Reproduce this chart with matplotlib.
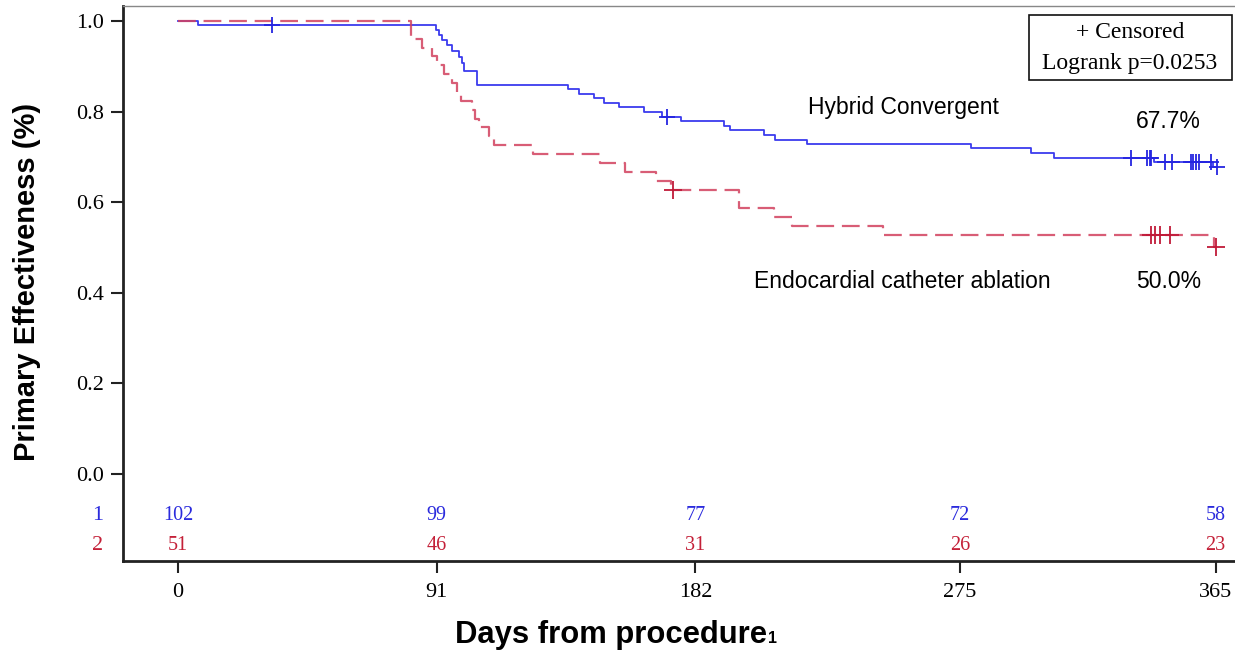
import matplotlib
matplotlib.use("Agg")
import matplotlib.pyplot as plt
from matplotlib.patches import Rectangle

# Hybrid Convergent (group 1) - KM steps
hyb_t = [0, 7, 90.8, 91.6, 92.8, 94.6, 96.3, 98.7, 99.9, 100.4, 105.1, 137.0, 140.9,
         146.2, 149.7, 155.0, 163.8, 170.2, 176.9, 191.9, 194.3, 206.0, 210.1, 221.3,
         279.1, 300.2, 308.1, 343.3, 364.0, 365.4]
hyb_s = [1.0, 0.990, 0.980, 0.970, 0.958, 0.947, 0.933, 0.921, 0.907, 0.889, 0.859, 0.849, 0.838,
         0.829, 0.820, 0.811, 0.800, 0.789, 0.779, 0.768, 0.759, 0.748, 0.738, 0.728,
         0.719, 0.709, 0.698, 0.688, 0.677, 0.677]
hyb_cens_t = [33, 172, 335.3, 341.0, 341.8, 342.4, 347.1, 349.8, 356.2, 357.0, 358.0, 359.1, 363.3, 365.4]
hyb_cens_s = [0.990, 0.789, 0.698, 0.698, 0.698, 0.698, 0.688, 0.688, 0.688, 0.688, 0.688, 0.688, 0.688, 0.677]

# Endocardial catheter ablation (group 2)
endo_t = [0, 81.9, 85.8, 89.2, 91.0, 93.5, 96.5, 98.0, 99.5, 103.4, 104.5, 105.7, 109.2, 111.0,
          125.0, 148.5, 157.3, 168.2, 173.5, 197.2, 209.6, 216.0, 247.9, 364.5, 365.0]
endo_s = [1.0, 0.961, 0.941, 0.922, 0.902, 0.882, 0.863, 0.843, 0.824, 0.804, 0.784, 0.765, 0.745, 0.726,
          0.706, 0.686, 0.667, 0.647, 0.627, 0.588, 0.567, 0.547, 0.527, 0.502, 0.502]
endo_cens_t = [174.1, 342.1, 343.6, 345.4, 348.8, 365.0]
endo_cens_s = [0.627, 0.527, 0.527, 0.527, 0.527, 0.502]

# number at risk
risk_days = [0, 91, 182, 275, 365]
risk_hyb = [102, 99, 77, 72, 58]
risk_endo = [51, 46, 31, 26, 23]

blue = "#3b3bee"
red = "#d2405e"
blue_txt = "#2b2bdd"
red_txt = "#c42038"
serif = ["Liberation Serif", "DejaVu Serif"]
sans = ["Liberation Sans", "DejaVu Sans"]

fig = plt.figure(figsize=(12.35, 6.54), dpi=100)
ax = fig.add_axes([123 / 1235, 1 - 561 / 654, 1112 / 1235, 555 / 654])

ax.step(hyb_t, hyb_s, where="post", color=blue, lw=1.3)
ax.step(endo_t, endo_s, where="post", color=red, lw=1.6, dashes=(8, 3.5), alpha=0.85)
ax.plot(hyb_cens_t, hyb_cens_s, "+", color="#2525e0", ms=11, mew=1.3)
ax.plot(endo_cens_t, endo_cens_s, "+", color="#c01a38", ms=13, mew=1.3)

ax.set_xlim(-19.4, 371.8)
ax.set_ylim(-0.192, 1.033)
ax.set_xticks(risk_days)
ax.set_yticks([0.0, 0.2, 0.4, 0.6, 0.8, 1.0])
ax.set_yticklabels(["0.0", "0.2", "0.4", "0.6", "0.8", "1.0"])
for lab in ax.get_xticklabels() + ax.get_yticklabels():
    lab.set_family(serif)
    lab.set_fontsize(16)
ax.tick_params(axis="both", length=8.5, width=1.5, color="#222222")
ax.tick_params(axis="y", pad=5)
ax.tick_params(axis="x", pad=7)

for s in ["left", "bottom"]:
    ax.spines[s].set_linewidth(2)
    ax.spines[s].set_color("#222222")
ax.spines["top"].set_color("#888888")
ax.spines["top"].set_linewidth(1)
ax.spines["right"].set_visible(False)

# risk table
for d, n1, n2 in zip(risk_days, risk_hyb, risk_endo):
    ax.text(d, -0.0905, str(n1), color=blue_txt, ha="center", va="center",
            fontsize=14.5, family=serif)
    ax.text(d, -0.157, str(n2), color=red_txt, ha="center", va="center",
            fontsize=14.5, family=serif)
ax.text(-28.2, -0.0905, "1", color=blue_txt, ha="center", va="center",
        fontsize=16, family=serif, clip_on=False)
ax.text(-28.2, -0.157, "2", color=red_txt, ha="center", va="center",
        fontsize=16, family=serif, clip_on=False)

# curve annotations
ax.text(255.2, 0.808, "Hybrid Convergent", ha="center", va="center", fontsize=16.5, family=sans)
ax.text(348.5, 0.779, "67.7%", ha="center", va="center", fontsize=16.5, family=sans)
ax.text(254.8, 0.424, "Endocardial catheter ablation", ha="center", va="center",
        fontsize=16.5, family=sans)
ax.text(348.5, 0.426, "50.0%", ha="center", va="center", fontsize=16.5, family=sans)

# legend box
ax.add_patch(Rectangle((0.8146, 0.8667), 0.1827, 0.1171, transform=ax.transAxes,
                       fill=False, edgecolor="#111111", lw=1.2, zorder=5))
ax.text(0.9055, 0.953, "+ Censored", transform=ax.transAxes, ha="center", va="center",
        fontsize=17, family=serif)
ax.text(0.9055, 0.8955, "Logrank p=0.0253", transform=ax.transAxes, ha="center", va="center",
        fontsize=17, family=serif)

# axis titles
fig.text(27 / 1235, 1 - 282 / 654, "Primary Effectiveness (%)", rotation=90, ha="center",
         va="center", fontsize=21, fontweight="bold", family=sans)
fig.text(455 / 1235, 1 - 643 / 654, "Days from procedure", ha="left", va="baseline",
         fontsize=22.3, fontweight="bold", family=sans)
fig.text(768 / 1235, 1 - 643 / 654, "1", ha="left", va="baseline",
         fontsize=11.5, fontweight="bold", family=sans)

fig.savefig("out.png", dpi=100)
